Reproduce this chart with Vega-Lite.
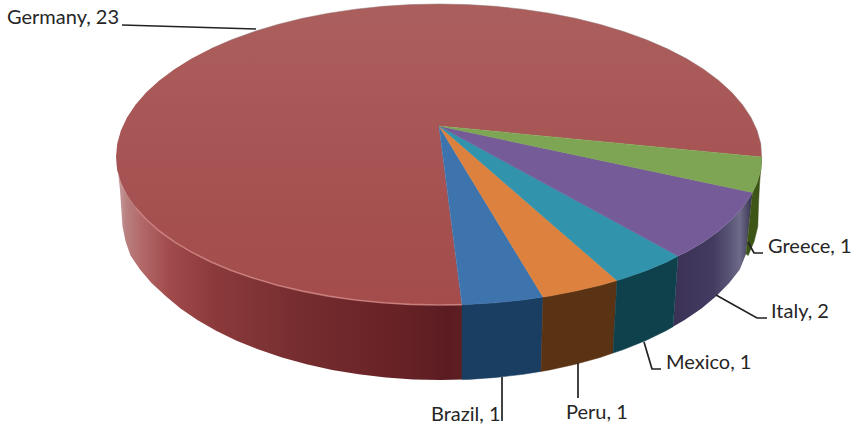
{
  "$schema": "https://vega.github.io/schema/vega-lite/v6.json",
  "width": 857,
  "height": 426,
  "padding": 0,
  "autosize": "none",
  "background": "white",
  "config": {"view": {"stroke": null}},
  "projection": {"type": "identity", "scale": 1, "translate": [0, 0]},
  "resolve": {"scale": {"fill": "independent", "stroke": "independent"}},
  "datasets": {
    "faces": [
      {"type": "Feature", "properties": {"country": "Germany", "value": 23, "part": "side"}, "geometry": {"type": "Polygon", "coordinates": [[[462,304.6],[439,305],[410.8,304.4],[382.9,302.8],[355.4,300],[328.5,296.1],[302.5,291.1],[277.5,285.2],[253.7,278.2],[231.4,270.4],[210.6,261.7],[191.6,252.1],[174.4,241.9],[159.3,231],[146.3,219.5],[135.5,207.6],[127,195.3],[120.9,182.7],[117.2,169.9],[116,157],[118,172],[120,190],[121.5,212],[122.5,226.6],[125.5,241.2],[130.5,255.5],[140,269.5],[151.5,283],[165.6,296],[180.5,308.4],[197.4,320],[216.1,330.8],[236.6,340.7],[258.6,349.6],[282,357.5],[306.6,364.3],[332.2,369.9],[358.7,374.3],[385.8,377.4],[413.3,379.4],[441,380],[462,379.6],[462,304.6]]]}},
      {"type": "Feature", "properties": {"country": "Brazil", "value": 1, "part": "side"}, "geometry": {"type": "Polygon", "coordinates": [[[543,297],[522.6,300],[495.1,302.8],[467.2,304.4],[462,304.6],[462,379.6],[468.7,379.4],[496.2,377.4],[523.3,374.3],[541,371.4],[543,297]]]}},
      {"type": "Feature", "properties": {"country": "Peru", "value": 1, "part": "side"}, "geometry": {"type": "Polygon", "coordinates": [[[617,280.5],[600.5,285.2],[575.5,291.1],[549.5,296.1],[543,297],[541,371.4],[549.8,369.9],[575.4,364.3],[600,357.5],[613,353],[617,280.5]]]}},
      {"type": "Feature", "properties": {"country": "Mexico", "value": 1, "part": "side"}, "geometry": {"type": "Polygon", "coordinates": [[[678,256],[667.4,261.7],[646.6,270.4],[624.3,278.2],[617,280.5],[613,353],[623.4,349.6],[645.4,340.7],[665.9,330.8],[673,326.7],[678,256]]]}},
      {"type": "Feature", "properties": {"country": "Italy", "value": 2, "part": "side"}, "geometry": {"type": "Polygon", "coordinates": [[[752.5,192.5],[751,195.3],[742.5,207.6],[731.7,219.5],[718.7,231],[703.6,241.9],[686.4,252.1],[678,256],[673,326.7],[684.6,320],[701.5,308.4],[716.4,296],[729.2,283],[739.8,269.5],[746,254],[752.5,192.5]]]}},
      {"type": "Feature", "properties": {"country": "Greece", "value": 1, "part": "side"}, "geometry": {"type": "Polygon", "coordinates": [[[761.6,157],[760.8,169.9],[757.1,182.7],[752.5,192.5],[746,254],[748.2,255.5],[754.2,241.2],[757.8,226.6],[758.5,205],[759.5,185],[761,165],[761.6,157]]]}},
      {"type": "Feature", "properties": {"country": "Germany", "value": 23, "part": "top"}, "geometry": {"type": "Polygon", "coordinates": [[[439,126],[462,304.6],[439,305],[410.8,304.4],[382.9,302.8],[355.4,300],[328.5,296.1],[302.5,291.1],[277.5,285.2],[253.7,278.2],[231.4,270.4],[210.6,261.7],[191.6,252.1],[174.4,241.9],[159.3,231],[146.3,219.5],[135.5,207.6],[127,195.3],[120.9,182.7],[117.2,169.9],[116,157],[117.2,143.7],[120.9,130.4],[127,117.4],[135.5,104.7],[146.3,92.3],[159.3,80.5],[174.4,69.2],[191.6,58.6],[210.6,48.8],[231.4,39.8],[253.7,31.7],[277.5,24.5],[302.5,18.3],[328.5,13.2],[355.4,9.2],[382.9,6.3],[410.8,4.6],[439,4],[467.2,4.6],[495.1,6.3],[522.6,9.2],[549.5,13.2],[575.5,18.3],[600.5,24.5],[624.3,31.7],[646.6,39.8],[667.4,48.8],[686.4,58.6],[703.6,69.2],[718.7,80.5],[731.7,92.3],[742.5,104.7],[751,117.4],[757.1,130.4],[760.8,143.7],[761.6,157],[439,126]]]}},
      {"type": "Feature", "properties": {"country": "Brazil", "value": 1, "part": "top"}, "geometry": {"type": "Polygon", "coordinates": [[[439,126],[543,297],[522.6,300],[495.1,302.8],[467.2,304.4],[462,304.6],[439,126]]]}},
      {"type": "Feature", "properties": {"country": "Peru", "value": 1, "part": "top"}, "geometry": {"type": "Polygon", "coordinates": [[[439,126],[617,280.5],[600.5,285.2],[575.5,291.1],[549.5,296.1],[543,297],[439,126]]]}},
      {"type": "Feature", "properties": {"country": "Mexico", "value": 1, "part": "top"}, "geometry": {"type": "Polygon", "coordinates": [[[439,126],[678,256],[667.4,261.7],[646.6,270.4],[624.3,278.2],[617,280.5],[439,126]]]}},
      {"type": "Feature", "properties": {"country": "Italy", "value": 2, "part": "top"}, "geometry": {"type": "Polygon", "coordinates": [[[439,126],[752.5,192.5],[751,195.3],[742.5,207.6],[731.7,219.5],[718.7,231],[703.6,241.9],[686.4,252.1],[678,256],[439,126]]]}},
      {"type": "Feature", "properties": {"country": "Greece", "value": 1, "part": "top"}, "geometry": {"type": "Polygon", "coordinates": [[[439,126],[761.6,157],[760.8,169.9],[757.1,182.7],[752.5,192.5],[439,126]]]}}
    ],
    "bevel": [
      {"type": "Feature", "properties": {"edge": "front"}, "geometry": {"type": "LineString", "coordinates": [[462,304.6],[439,305],[410.8,304.4],[382.9,302.8],[355.4,300],[328.5,296.1],[302.5,291.1],[277.5,285.2],[253.7,278.2],[231.4,270.4],[210.6,261.7],[191.6,252.1],[174.4,241.9],[159.3,231],[146.3,219.5],[135.5,207.6]]}}
    ],
    "rim": [
      {"type": "Feature", "properties": {"edge": "back"}, "geometry": {"type": "LineString", "coordinates": [[210.6,48.8],[231.4,39.8],[253.7,31.7],[277.5,24.5],[302.5,18.3],[328.5,13.2],[355.4,9.2],[382.9,6.3],[410.8,4.6],[439,4],[467.2,4.6],[495.1,6.3],[522.6,9.2],[549.5,13.2],[575.5,18.3],[600.5,24.5],[624.3,31.7],[646.6,39.8],[667.4,48.8],[686.4,58.6],[703.6,69.2],[718.7,80.5],[731.7,92.3],[742.5,104.7],[751,117.4],[757.1,130.4],[760.8,143.7],[761.6,157]]}}
    ],
    "leaders": [
      {"type": "Feature", "properties": {"country": "Germany"}, "geometry": {"type": "LineString", "coordinates": [[122,25],[256,29]]}},
      {"type": "Feature", "properties": {"country": "Greece"}, "geometry": {"type": "LineString", "coordinates": [[748,242],[754,253],[763,253]]}},
      {"type": "Feature", "properties": {"country": "Italy"}, "geometry": {"type": "LineString", "coordinates": [[716,295],[757,318],[767,318]]}},
      {"type": "Feature", "properties": {"country": "Mexico"}, "geometry": {"type": "LineString", "coordinates": [[644,342],[652,369],[661,369]]}},
      {"type": "Feature", "properties": {"country": "Peru"}, "geometry": {"type": "LineString", "coordinates": [[578,363],[578,398]]}},
      {"type": "Feature", "properties": {"country": "Brazil"}, "geometry": {"type": "LineString", "coordinates": [[502,377],[502,421]]}}
    ],
    "labels": [
      {"country": "Germany", "value": 23, "lon": 7, "lat": 24},
      {"country": "Greece", "value": 1, "lon": 768, "lat": 253},
      {"country": "Italy", "value": 2, "lon": 771, "lat": 318},
      {"country": "Mexico", "value": 1, "lon": 666, "lat": 369},
      {"country": "Peru", "value": 1, "lon": 566, "lat": 419},
      {"country": "Brazil", "value": 1, "lon": 431, "lat": 421}
    ]
  },
  "layer": [
    {
      "data": {"name": "faces"},
      "transform": [{"filter": "datum.properties.part === 'side' && datum.properties.country === 'Germany'"}],
      "mark": {"type": "geoshape", "fill": {"gradient": "linear", "x1": 0, "y1": 0, "x2": 1, "y2": 0, "stops": [
        {"offset": 0, "color": "#c9a4a4"},
        {"offset": 0.03, "color": "#b98080"},
        {"offset": 0.07, "color": "#b46a6a"},
        {"offset": 0.156, "color": "#a04a4b"},
        {"offset": 0.286, "color": "#8b3a3b"},
        {"offset": 0.53, "color": "#762d2f"},
        {"offset": 0.82, "color": "#672226"},
        {"offset": 0.965, "color": "#5a1c21"},
        {"offset": 1, "color": "#5e1f22"}
      ]}}
    },
    {
      "data": {"name": "faces"},
      "transform": [{"filter": "datum.properties.part === 'side' && datum.properties.country === 'Italy'"}],
      "mark": {"type": "geoshape", "fill": {"gradient": "linear", "x1": 0, "y1": 0, "x2": 1, "y2": 0, "stops": [
        {"offset": 0, "color": "#3b3157"},
        {"offset": 0.5, "color": "#443b60"},
        {"offset": 0.72, "color": "#5a5677"},
        {"offset": 0.84, "color": "#6d6b88"},
        {"offset": 1, "color": "#37324e"}
      ]}}
    },
    {
      "data": {"name": "faces"},
      "transform": [{"filter": "datum.properties.part === 'side' && datum.properties.country !== 'Germany' && datum.properties.country !== 'Italy'"}],
      "mark": {"type": "geoshape", "strokeWidth": 0.5},
      "encoding": {
        "fill": {"field": "properties.country", "type": "nominal", "legend": null, "scale": {"domain": ["Brazil", "Peru", "Mexico", "Greece"], "range": ["#1a3e62", "#5a3214", "#0f414d", "#3e5518"]}},
        "stroke": {"field": "properties.country", "type": "nominal", "legend": null, "scale": {"domain": ["Brazil", "Peru", "Mexico", "Greece"], "range": ["#1a3e62", "#5a3214", "#0f414d", "#3e5518"]}}
      }
    },
    {
      "data": {"name": "faces"},
      "transform": [{"filter": "datum.properties.part === 'top' && datum.properties.country === 'Germany'"}],
      "mark": {"type": "geoshape", "fill": {"gradient": "linear", "x1": 0, "y1": 0, "x2": 0, "y2": 1, "stops": [
        {"offset": 0, "color": "#ab5f5d"},
        {"offset": 0.5, "color": "#a75454"},
        {"offset": 1, "color": "#a34c4b"}
      ]}}
    },
    {
      "data": {"name": "faces"},
      "transform": [{"filter": "datum.properties.part === 'top' && datum.properties.country !== 'Germany'"}],
      "mark": {"type": "geoshape", "strokeWidth": 0.5},
      "encoding": {
        "fill": {"field": "properties.country", "type": "nominal", "legend": null, "scale": {"domain": ["Brazil", "Peru", "Mexico", "Italy", "Greece"], "range": ["#3e74ad", "#dd823e", "#3293ac", "#755c98", "#7ea553"]}},
        "stroke": {"field": "properties.country", "type": "nominal", "legend": null, "scale": {"domain": ["Brazil", "Peru", "Mexico", "Italy", "Greece"], "range": ["#3e74ad", "#dd823e", "#3293ac", "#755c98", "#7ea553"]}}
      }
    },
    {
      "data": {"name": "bevel"},
      "mark": {"type": "geoshape", "filled": false, "stroke": "#cc8280", "strokeWidth": 1.6, "strokeOpacity": 0.85}
    },
    {
      "data": {"name": "rim"},
      "mark": {"type": "geoshape", "filled": false, "stroke": "#8f7373", "strokeWidth": 0.8, "strokeOpacity": 0.6}
    },
    {
      "data": {"name": "leaders"},
      "mark": {"type": "geoshape", "filled": false, "stroke": "#222222", "strokeWidth": 1.7}
    },
    {
      "data": {"name": "labels"},
      "transform": [{"calculate": "datum.country + ', ' + datum.value", "as": "label"}],
      "mark": {"type": "text", "align": "left", "baseline": "alphabetic", "font": "Lato", "fontSize": 20, "color": "#262626"},
      "encoding": {
        "longitude": {"field": "lon", "type": "quantitative"},
        "latitude": {"field": "lat", "type": "quantitative"},
        "text": {"field": "label", "type": "nominal"}
      }
    }
  ]
}
